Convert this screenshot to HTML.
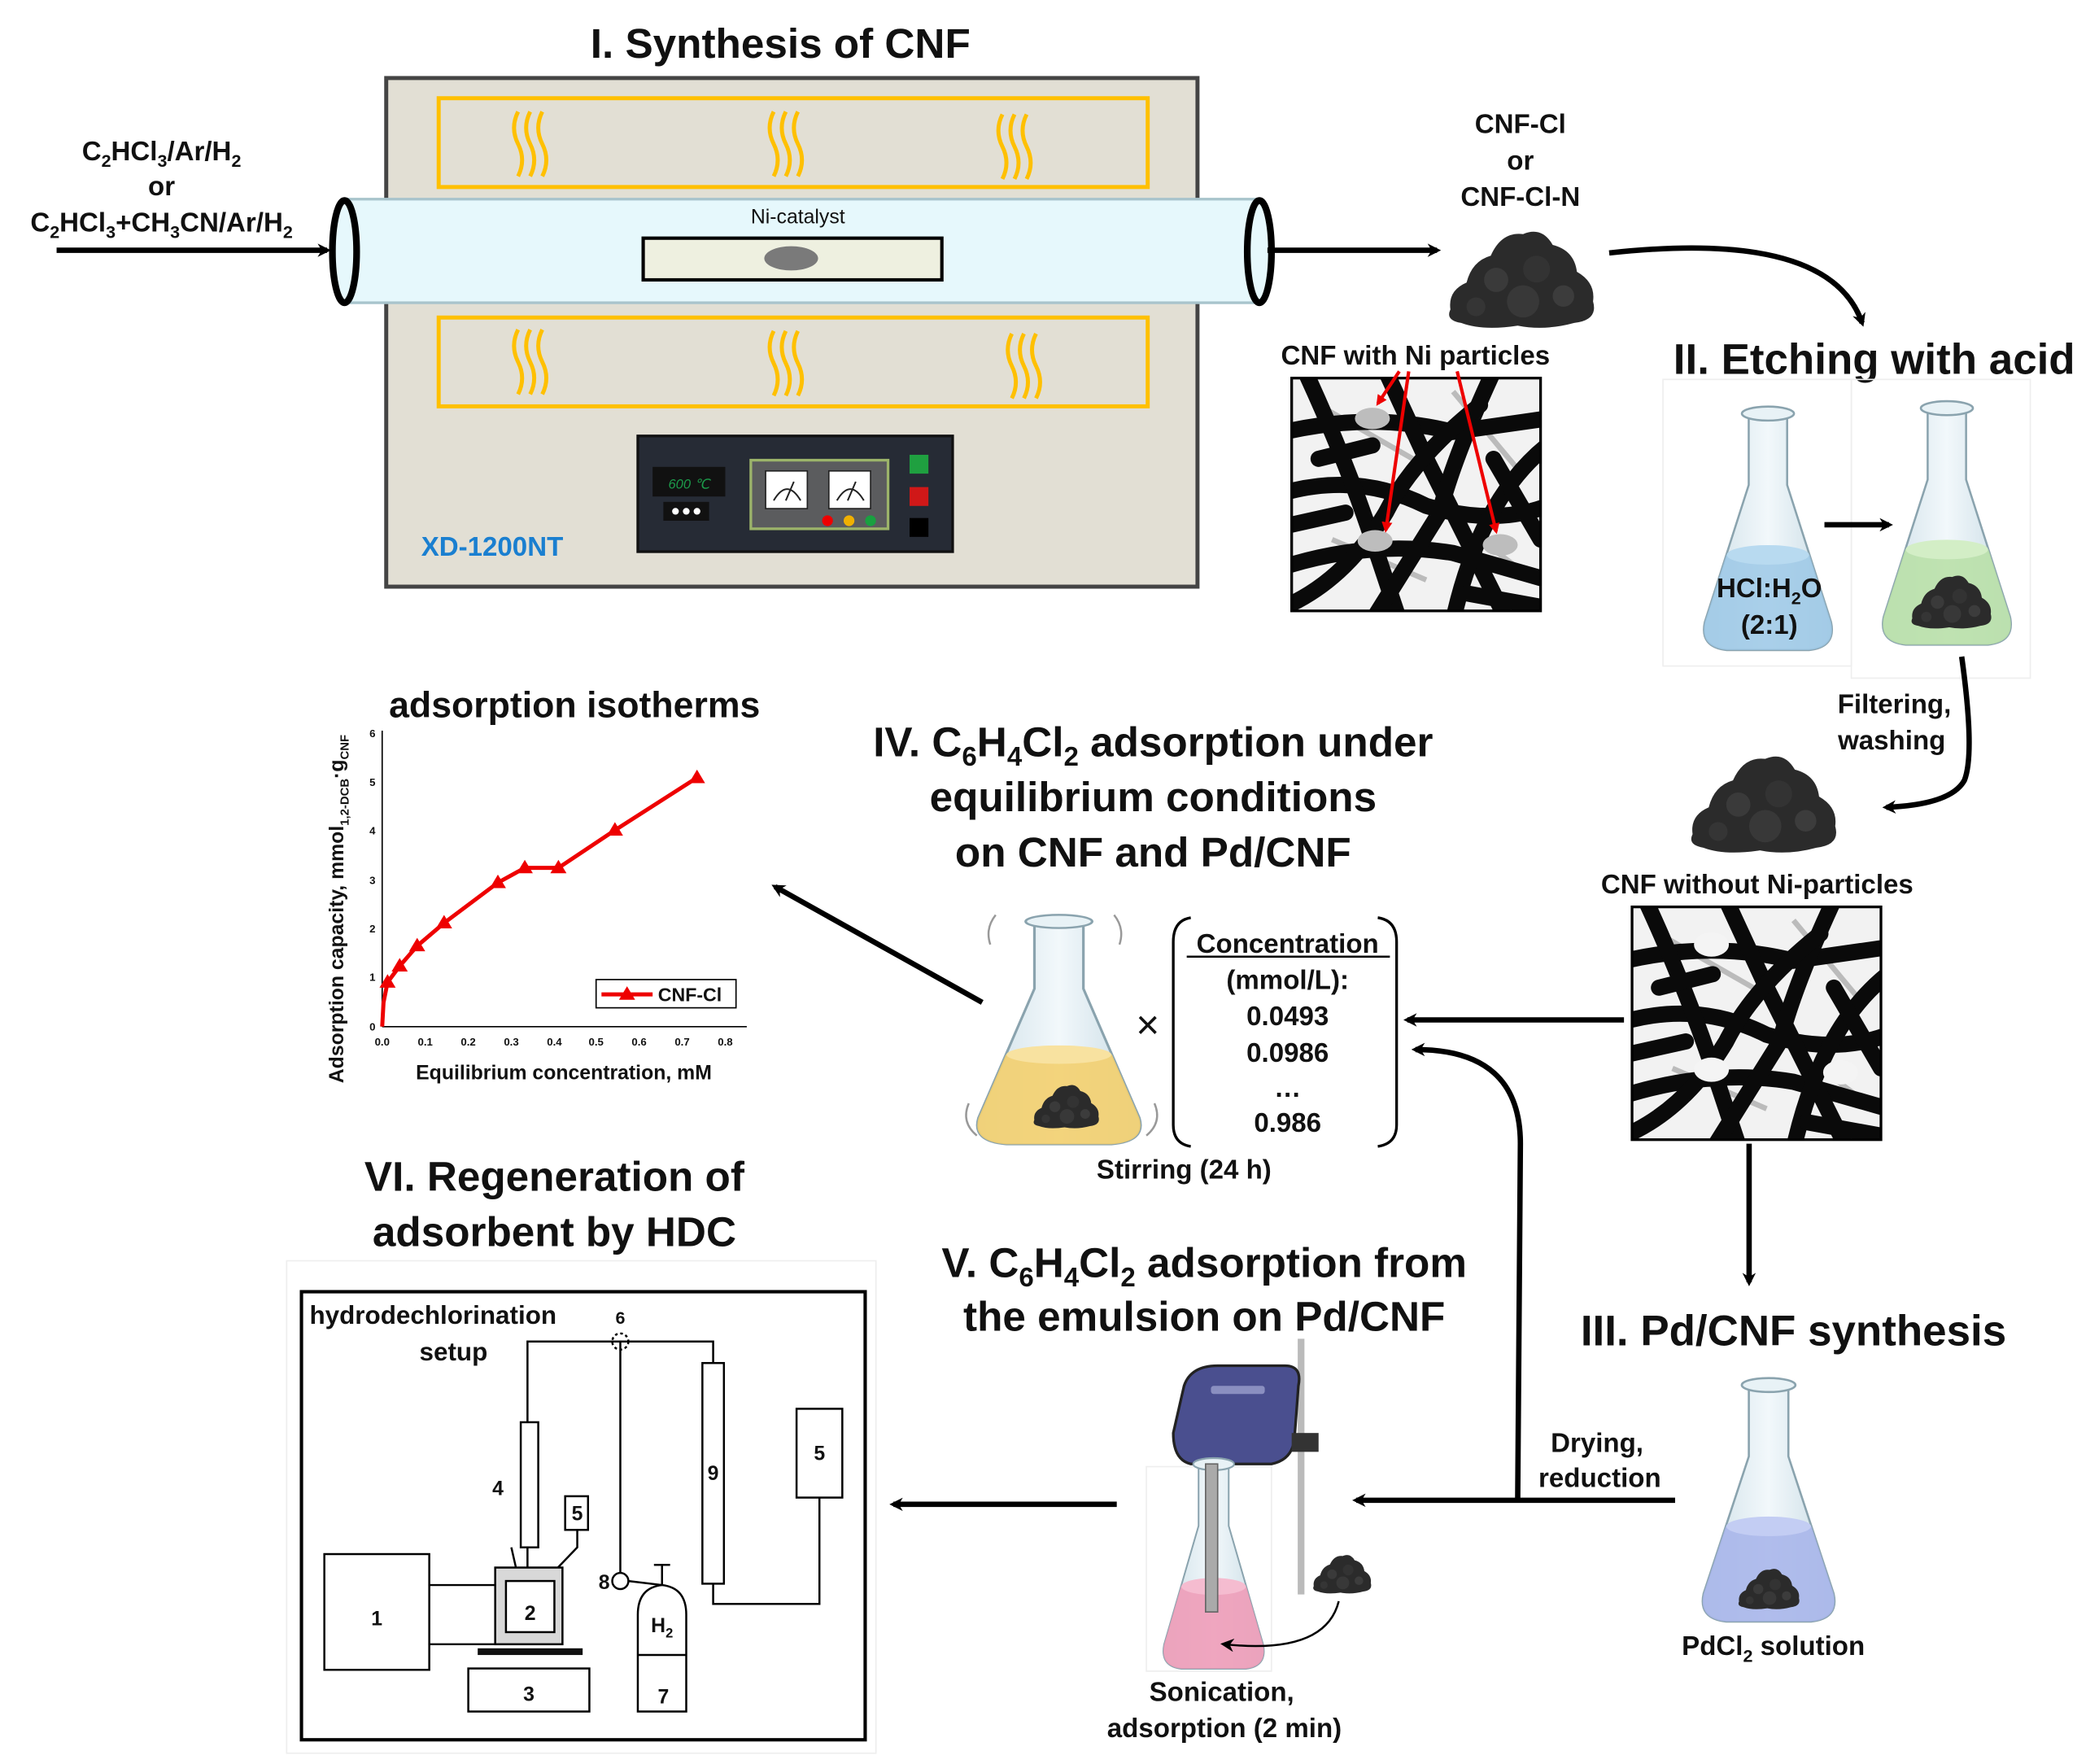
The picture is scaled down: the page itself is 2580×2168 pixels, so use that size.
<!DOCTYPE html>
<html><head><meta charset="utf-8"><style>
html,body{margin:0;padding:0;background:#fff;}
svg{display:block;}
text{font-family:"Liberation Sans",Arial,sans-serif;font-weight:bold;fill:#111;}
</style></head><body>
<svg width="2580" height="2168" viewBox="0 0 1560 1311" xmlns="http://www.w3.org/2000/svg">
<defs>
<marker id="ah" markerWidth="10" markerHeight="10" refX="7" refY="5" orient="auto" markerUnits="userSpaceOnUse"><path d="M0,0 L10,5 L0,10 L3,5 Z" fill="#000"/></marker>
<marker id="ahr" markerWidth="8" markerHeight="8" refX="6" refY="4" orient="auto" markerUnits="userSpaceOnUse"><path d="M0,0 L8,4 L0,8 Z" fill="#e00"/></marker>
<linearGradient id="glass" x1="0" x2="1"><stop offset="0" stop-color="#cfe0e8"/><stop offset="0.5" stop-color="#f2f8fb"/><stop offset="1" stop-color="#c8dbe4"/></linearGradient>
<clipPath id="semclip"><rect x="0" y="0" width="185" height="173"/></clipPath>
<g id="wav"><path d="M0,0 q-6,12 0,24 q6,12 0,24"/><path d="M9,0 q-6,12 0,24 q6,12 0,24"/><path d="M18,0 q-6,12 0,24 q6,12 0,24"/></g>
<g id="flaskbody"><path d="M36,10 L36,60 L4,158 Q0,176 20,178 L80,178 Q100,176 96,158 L64,60 L64,10 Z" fill="url(#glass)" stroke="#8aa3ae" stroke-width="1.5"/></g>
<g id="flaskrim"><ellipse cx="50" cy="9" rx="19" ry="5" fill="#e8f2f6" stroke="#8aa3ae" stroke-width="1.5"/></g>
<path id="liq" d="M19.7,110 L4,158 Q0,176 20,178 L80,178 Q100,176 96,158 L80.3,110 Z"/>
<g id="pile">
<path d="M6,72 Q4,58 18,52 Q22,36 36,32 Q44,14 60,16 Q74,10 82,24 Q98,28 100,44 Q114,52 112,66 Q116,80 98,82 Q76,88 56,84 Q30,88 14,82 Q2,80 6,72 Z" fill="#2b2b2b"/>
<circle cx="40" cy="50" r="9" fill="#3a3a3a"/><circle cx="70" cy="42" r="10" fill="#333"/><circle cx="60" cy="66" r="12" fill="#383838"/><circle cx="90" cy="62" r="8" fill="#3c3c3c"/><circle cx="25" cy="70" r="7" fill="#353535"/>
</g>
<g id="sem">
<g clip-path="url(#semclip)">
<rect x="0" y="0" width="185" height="173" fill="#f2f2f2"/>
<g stroke="#bbb" stroke-width="4" fill="none"><path d="M20,20 L90,60"/><path d="M120,10 L170,70"/><path d="M30,120 L100,150"/><path d="M140,120 L180,150"/></g>
<g stroke="#0a0a0a" stroke-width="12" fill="none" stroke-linecap="round">
<path d="M-5,40 Q60,25 120,40 L190,30"/>
<path d="M-5,85 Q50,70 100,95 Q150,110 190,95"/>
<path d="M-5,140 Q60,120 120,130 L190,150"/>
<path d="M10,-5 Q40,60 60,120 L80,180"/>
<path d="M70,-5 L100,60 L160,180"/>
<path d="M150,-5 Q120,60 110,100 L60,180"/>
<path d="M190,50 Q140,90 120,180"/>
<path d="M-5,170 Q40,150 70,100 Q90,60 140,20"/>
<path d="M20,60 L60,50"/><path d="M150,60 L185,120"/>
<path d="M-5,110 L40,100"/><path d="M130,160 L185,170"/>
</g>
</g>
<rect x="0" y="0" width="185" height="173" fill="none" stroke="#000" stroke-width="2"/>
</g>
</defs>

<!-- I. Synthesis -->
<text x="580" y="43" font-size="31" text-anchor="middle">I. Synthesis of CNF</text>
<rect x="287" y="58" width="603" height="378" fill="#e2dfd4" stroke="#444" stroke-width="3"/>
<rect x="326" y="73" width="527" height="66" fill="none" stroke="#ffc000" stroke-width="3"/>
<rect x="326" y="236" width="527" height="66" fill="none" stroke="#ffc000" stroke-width="3"/>
<g stroke="#ffc000" stroke-width="3" fill="none">
<use href="#wav" x="385" y="83"/><use href="#wav" x="575" y="83"/><use href="#wav" x="745" y="85"/>
<use href="#wav" x="385" y="245"/><use href="#wav" x="575" y="246"/><use href="#wav" x="752" y="248"/>
</g>
<rect x="255" y="148" width="680" height="77" fill="#e6f8fc" stroke="#a8c4cc" stroke-width="2"/>
<ellipse cx="256" cy="187" rx="9" ry="38" fill="#e6f8fc" stroke="#000" stroke-width="5"/>
<ellipse cx="936" cy="187" rx="9" ry="38" fill="#e6f8fc" stroke="#000" stroke-width="5"/>
<rect x="478" y="177" width="222" height="31" fill="#eef0e0" stroke="#000" stroke-width="2.5"/>
<ellipse cx="588" cy="192" rx="20" ry="9" fill="#7a7a7a"/>
<text x="593" y="166" font-size="15" text-anchor="middle" style="font-weight:normal">Ni-catalyst</text>
<rect x="474" y="324" width="234" height="86" fill="#262b35" stroke="#111" stroke-width="2"/>
<rect x="485" y="347" width="54" height="22" fill="#111"/>
<text x="512" y="363" font-size="10" text-anchor="middle" style="fill:#1c9a4a;font-style:italic;font-weight:normal">600 ℃</text>
<rect x="493" y="373" width="34" height="14" fill="#111"/>
<circle cx="502" cy="380" r="2.5" fill="#fff"/><circle cx="510" cy="380" r="2.5" fill="#fff"/><circle cx="518" cy="380" r="2.5" fill="#fff"/>
<rect x="558" y="342" width="102" height="51" fill="#5b5c5e" stroke="#9cb46a" stroke-width="2"/>
<rect x="569" y="350" width="31" height="28" fill="#fff" stroke="#222"/><rect x="616" y="350" width="31" height="28" fill="#fff" stroke="#222"/>
<path d="M575,372 Q585,355 595,372 M584,372 L590,358 M622,372 Q632,355 642,372 M630,372 L636,358" stroke="#222" stroke-width="1.2" fill="none"/>
<circle cx="615" cy="387" r="4" fill="#e00"/><circle cx="631" cy="387" r="4" fill="#f0b000"/><circle cx="647" cy="387" r="4" fill="#19a040"/>
<rect x="676" y="338" width="14" height="14" fill="#1fa040"/><rect x="676" y="362" width="14" height="14" fill="#d01818"/><rect x="676" y="385" width="14" height="14" fill="#000"/>
<text x="313" y="413" font-size="20" style="fill:#1a7fd0">XD-1200NT</text>

<text x="120" y="119" font-size="20" text-anchor="middle">C<tspan font-size="13" dy="5">2</tspan><tspan dy="-5">HCl</tspan><tspan font-size="13" dy="5">3</tspan><tspan dy="-5">/Ar/H</tspan><tspan font-size="13" dy="5">2</tspan></text>
<text x="120" y="145" font-size="20" text-anchor="middle">or</text>
<text x="120" y="172" font-size="20" text-anchor="middle">C<tspan font-size="13" dy="5">2</tspan><tspan dy="-5">HCl</tspan><tspan font-size="13" dy="5">3</tspan><tspan dy="-5">+CH</tspan><tspan font-size="13" dy="5">3</tspan><tspan dy="-5">CN/Ar/H</tspan><tspan font-size="13" dy="5">2</tspan></text>
<line x1="42" y1="186" x2="243" y2="186" stroke="#000" stroke-width="4" marker-end="url(#ah)"/>
<line x1="942" y1="186" x2="1068" y2="186" stroke="#000" stroke-width="4" marker-end="url(#ah)"/>
<text x="1130" y="99" font-size="20" text-anchor="middle">CNF-Cl</text>
<text x="1130" y="126" font-size="20" text-anchor="middle">or</text>
<text x="1130" y="153" font-size="20" text-anchor="middle">CNF-Cl-N</text>
<use href="#pile" x="1072" y="158"/>
<path d="M1196,188 Q1360,170 1384,240" stroke="#000" stroke-width="4" fill="none" marker-end="url(#ah)"/>
<text x="1052" y="271" font-size="20" text-anchor="middle">CNF with Ni particles</text>
<use href="#sem" x="960" y="281"/>
<g fill="#bdbdbd"><ellipse cx="1020" cy="311" rx="13" ry="8"/><ellipse cx="1022" cy="402" rx="13" ry="8"/><ellipse cx="1115" cy="405" rx="13" ry="8"/></g>
<g stroke="#e00" stroke-width="2.5" marker-end="url(#ahr)"><line x1="1040" y1="276" x2="1024" y2="300"/><line x1="1047" y1="276" x2="1030" y2="394"/><line x1="1083" y1="276" x2="1112" y2="395"/></g>

<!-- II -->
<text x="1393" y="278" font-size="32" text-anchor="middle">II. Etching with acid</text>
<rect x="1236" y="282" width="140" height="213" fill="none" stroke="#eee"/>
<rect x="1376" y="282" width="133" height="222" fill="none" stroke="#eee"/>
<g transform="translate(1263,298) scale(1.02,1.04)"><use href="#flaskbody"/><use href="#liq" fill="#9cc8e6" opacity="0.85"/><ellipse cx="50" cy="110" rx="30" ry="7" fill="#b8daf0"/><use href="#flaskrim"/></g>
<g transform="translate(1396,294) scale(1.02,1.04)"><use href="#flaskbody"/><use href="#liq" fill="#b9e0a8" opacity="0.9"/><ellipse cx="50" cy="110" rx="30" ry="7" fill="#d3eec6"/><use href="#flaskrim"/></g>
<use href="#pile" transform="translate(1418,420) scale(0.55)"/>
<text x="1315" y="444" font-size="20" text-anchor="middle">HCl:H<tspan font-size="13" dy="5">2</tspan><tspan dy="-5">O</tspan></text>
<text x="1315" y="471" font-size="20" text-anchor="middle">(2:1)</text>
<line x1="1356" y1="390" x2="1404" y2="390" stroke="#000" stroke-width="4" marker-end="url(#ah)"/>
<text x="1408" y="530" font-size="20" text-anchor="middle">Filtering,</text>
<text x="1406" y="557" font-size="20" text-anchor="middle">washing</text>
<path d="M1458,488 Q1468,560 1460,580 Q1450,598 1402,600" stroke="#000" stroke-width="4" fill="none" marker-end="url(#ah)"/>
<use href="#pile" transform="translate(1252,548)"/>
<text x="1306" y="664" font-size="20" text-anchor="middle">CNF without Ni-particles</text>
<use href="#sem" x="1213" y="674"/>
<g fill="#f4f4f4"><ellipse cx="1272" cy="702" rx="13" ry="9"/><ellipse cx="1272" cy="795" rx="13" ry="9"/><ellipse cx="1368" cy="797" rx="13" ry="9"/></g>
<line x1="1207" y1="758" x2="1046" y2="758" stroke="#000" stroke-width="4" marker-end="url(#ah)"/>
<line x1="1300" y1="850" x2="1300" y2="953" stroke="#000" stroke-width="4" marker-end="url(#ah)"/>

<!-- III -->
<text x="1333" y="1000" font-size="32" text-anchor="middle">III. Pd/CNF synthesis</text>
<g transform="translate(1262,1020) scale(1.05,1.04)"><use href="#flaskbody"/><use href="#liq" fill="#a9b6ea" opacity="0.9"/><ellipse cx="50" cy="110" rx="30" ry="7" fill="#c3cdf3"/><use href="#flaskrim"/></g>
<use href="#pile" transform="translate(1290,1160) scale(0.42)"/>
<text x="1318" y="1230" font-size="20" text-anchor="middle">PdCl<tspan font-size="13" dy="5">2</tspan><tspan dy="-5"> solution</tspan></text>
<text x="1187" y="1079" font-size="20" text-anchor="middle">Drying,</text>
<text x="1189" y="1105" font-size="20" text-anchor="middle">reduction</text>
<line x1="1245" y1="1115" x2="1008" y2="1115" stroke="#000" stroke-width="4" marker-end="url(#ah)"/>
<path d="M1128,1115 L1130,850 Q1130,780 1052,780" stroke="#000" stroke-width="4" fill="none" marker-end="url(#ah)"/>

<!-- IV -->
<text x="857" y="562" font-size="31" text-anchor="middle">IV. C<tspan font-size="20" dy="7">6</tspan><tspan dy="-7">H</tspan><tspan font-size="20" dy="7">4</tspan><tspan dy="-7">Cl</tspan><tspan font-size="20" dy="7">2</tspan><tspan dy="-7"> adsorption under</tspan></text>
<text x="857" y="603" font-size="31" text-anchor="middle">equilibrium conditions</text>
<text x="857" y="644" font-size="31" text-anchor="middle">on CNF and Pd/CNF</text>
<g transform="translate(722,676) scale(1.3,0.98)"><use href="#flaskbody"/><use href="#liq" fill="#f3cf6e" opacity="0.9"/><ellipse cx="50" cy="110" rx="30" ry="7" fill="#f8e2a0"/><use href="#flaskrim"/></g>
<use href="#pile" transform="translate(766,800) scale(0.45)"/>
<g stroke="#999" stroke-width="1.5" fill="none"><path d="M740,680 q-8,10 -4,22"/><path d="M828,680 q8,10 4,22"/><path d="M720,820 q-6,14 6,24"/><path d="M858,820 q6,14 -6,24"/></g>
<text x="853" y="772" font-size="30" text-anchor="middle" style="font-weight:normal">×</text>
<path d="M885,682 Q872,684 872,700 L872,836 Q872,850 885,852" stroke="#000" stroke-width="2" fill="none"/>
<path d="M1024,682 Q1038,684 1038,700 L1038,836 Q1038,850 1024,852" stroke="#000" stroke-width="2" fill="none"/>
<text x="957" y="708" font-size="20" text-anchor="middle">Concentration</text>
<line x1="882" y1="711" x2="1033" y2="711" stroke="#000" stroke-width="1.5"/>
<text x="957" y="735" font-size="20" text-anchor="middle">(mmol/L):</text>
<text x="957" y="762" font-size="20" text-anchor="middle">0.0493</text>
<text x="957" y="789" font-size="20" text-anchor="middle">0.0986</text>
<text x="957" y="815" font-size="20" text-anchor="middle">…</text>
<text x="957" y="841" font-size="20" text-anchor="middle">0.986</text>
<text x="880" y="876" font-size="20" text-anchor="middle">Stirring (24 h)</text>
<line x1="730" y1="745" x2="576" y2="659" stroke="#000" stroke-width="4" marker-end="url(#ah)"/>

<!-- graph -->
<text x="427" y="533" font-size="27" text-anchor="middle">adsorption isotherms</text>
<line x1="284" y1="543" x2="284" y2="763" stroke="#000" stroke-width="1"/>
<line x1="284" y1="763" x2="555" y2="763" stroke="#000" stroke-width="1"/>
<g>
<text x="279" y="766" text-anchor="end" font-size="8">0</text><text x="279" y="729" text-anchor="end" font-size="8">1</text><text x="279" y="693" text-anchor="end" font-size="8">2</text><text x="279" y="657" text-anchor="end" font-size="8">3</text><text x="279" y="620" text-anchor="end" font-size="8">4</text><text x="279" y="584" text-anchor="end" font-size="8">5</text><text x="279" y="548" text-anchor="end" font-size="8">6</text>
<text x="284" y="777" text-anchor="middle" font-size="8">0.0</text><text x="316" y="777" text-anchor="middle" font-size="8">0.1</text><text x="348" y="777" text-anchor="middle" font-size="8">0.2</text><text x="380" y="777" text-anchor="middle" font-size="8">0.3</text><text x="412" y="777" text-anchor="middle" font-size="8">0.4</text><text x="443" y="777" text-anchor="middle" font-size="8">0.5</text><text x="475" y="777" text-anchor="middle" font-size="8">0.6</text><text x="507" y="777" text-anchor="middle" font-size="8">0.7</text><text x="539" y="777" text-anchor="middle" font-size="8">0.8</text>
</g>
<text x="419" y="802" font-size="15" text-anchor="middle">Equilibrium concentration, mM</text>
<text transform="translate(255,805) rotate(-90)" font-size="15">Adsorption capacity, mmol<tspan font-size="9" dy="4">1,2-DCB</tspan><tspan dy="-4">·g</tspan><tspan font-size="9" dy="4">CNF</tspan></text>
<polyline points="284,763 285,745 288,730 297,718 310,703 330,686 370,656 390,645 415,645 457,617 518,578" fill="none" stroke="#e00" stroke-width="3"/>
<g fill="#e00"><path d="M288,724 l6,10 h-12z"/><path d="M297,712 l6,10 h-12z"/><path d="M310,697 l6,10 h-12z"/><path d="M330,680 l6,10 h-12z"/><path d="M370,650 l6,10 h-12z"/><path d="M390,639 l6,10 h-12z"/><path d="M415,639 l6,10 h-12z"/><path d="M457,611 l6,10 h-12z"/><path d="M518,572 l6,10 h-12z"/></g>
<rect x="443" y="728" width="104" height="21" fill="#fff" stroke="#000" stroke-width="1"/>
<line x1="447" y1="739" x2="485" y2="739" stroke="#e00" stroke-width="3"/><path d="M466,733 l6,10 h-12z" fill="#e00"/>
<text x="489" y="744" font-size="14">CNF-Cl</text>

<!-- V -->
<text x="895" y="949" font-size="31" text-anchor="middle">V. C<tspan font-size="20" dy="7">6</tspan><tspan dy="-7">H</tspan><tspan font-size="20" dy="7">4</tspan><tspan dy="-7">Cl</tspan><tspan font-size="20" dy="7">2</tspan><tspan dy="-7"> adsorption from</tspan></text>
<text x="895" y="989" font-size="31" text-anchor="middle">the emulsion on Pd/CNF</text>
<rect x="852" y="1090" width="93" height="152" fill="none" stroke="#eee"/>
<line x1="967" y1="995" x2="967" y2="1185" stroke="#bbb" stroke-width="5"/>
<path d="M872,1065 L880,1030 Q885,1015 905,1015 L955,1015 Q968,1015 965,1030 L962,1070 Q960,1085 945,1088 L885,1088 Q872,1085 872,1065 Z" fill="#4a4f8f" stroke="#222" stroke-width="2"/>
<rect x="900" y="1030" width="40" height="6" rx="2" fill="#8a8fc0"/>
<rect x="960" y="1065" width="20" height="14" fill="#333"/>
<g transform="translate(862,1080) scale(0.8,0.9)"><use href="#flaskbody"/><use href="#liq" fill="#ee9cb8" opacity="0.9"/><ellipse cx="50" cy="110" rx="30" ry="7" fill="#f5bcd0"/><use href="#flaskrim"/></g>
<rect x="896" y="1088" width="9" height="110" fill="#aaa" stroke="#666"/>
<use href="#pile" transform="translate(974,1150) scale(0.4)"/>
<path d="M995,1190 Q985,1230 910,1222" stroke="#000" stroke-width="1.5" fill="none" marker-end="url(#ah)"/>
<text x="908" y="1264" font-size="20" text-anchor="middle">Sonication,</text>
<text x="910" y="1291" font-size="20" text-anchor="middle">adsorption (2 min)</text>
<line x1="830" y1="1118" x2="664" y2="1118" stroke="#000" stroke-width="4" marker-end="url(#ah)"/>

<!-- VI -->
<text x="412" y="885" font-size="31" text-anchor="middle">VI. Regeneration of</text>
<text x="412" y="926" font-size="31" text-anchor="middle">adsorbent by HDC</text>
<rect x="213" y="937" width="438" height="366" fill="#fff" stroke="#eee"/>
<rect x="224" y="960" width="419" height="333" fill="none" stroke="#000" stroke-width="2.5"/>
<text x="230" y="984" font-size="19">hydrodechlorination</text>
<text x="337" y="1011" font-size="19" text-anchor="middle">setup</text>
<text x="461" y="984" font-size="13" text-anchor="middle">6</text>
<g stroke="#000" stroke-width="1.5" fill="none">
<polyline points="392,1165 392,997 530,997 530,1013"/>
<circle cx="461" cy="997" r="6" stroke-dasharray="2,2"/>
<line x1="461" y1="997" x2="461" y2="1169"/>
<rect x="387" y="1057" width="13" height="93" fill="#fff"/>
<rect x="420" y="1112" width="17" height="25"/>
<polyline points="429,1137 429,1150 405,1175"/>
<line x1="380" y1="1150" x2="385" y2="1172"/>
<rect x="522" y="1013" width="16" height="164" fill="#fff"/>
<rect x="592" y="1047" width="34" height="66"/>
<polyline points="609,1113 609,1192 530,1192 530,1177"/>
<rect x="241" y="1155" width="78" height="86"/>
<line x1="319" y1="1178" x2="368" y2="1178"/><line x1="319" y1="1222" x2="368" y2="1222"/>
<rect x="368" y="1165" width="50" height="57" fill="#d8d8d8"/>
<rect x="376" y="1175" width="36" height="38" fill="#fff"/>
<rect x="348" y="1240" width="90" height="32"/>
<circle cx="461" cy="1175" r="6" fill="#fff"/>
<line x1="467" y1="1175" x2="492" y2="1178"/>
<path d="M474,1272 L474,1200 Q474,1180 492,1178 Q510,1180 510,1200 L510,1272 Z"/>
<line x1="474" y1="1230" x2="510" y2="1230"/>
<line x1="492" y1="1163" x2="492" y2="1178"/><line x1="486" y1="1163" x2="498" y2="1163"/>
</g>
<rect x="355" y="1225" width="78" height="5" fill="#111"/>
<g font-size="15" text-anchor="middle">
<text x="370" y="1111">4</text><text x="429" y="1130">5</text><text x="530" y="1100">9</text><text x="609" y="1085">5</text>
<text x="280" y="1208">1</text><text x="394" y="1204">2</text><text x="393" y="1264">3</text><text x="449" y="1181">8</text>
<text x="492" y="1213">H<tspan font-size="10" dy="4">2</tspan></text><text x="493" y="1266">7</text>
</g>
</svg>
</body></html>
